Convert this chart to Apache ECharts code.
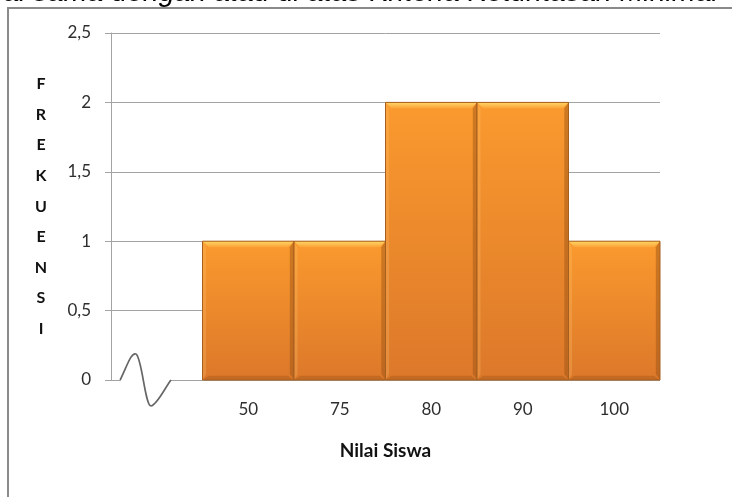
<!DOCTYPE html>
<html>
<head>
<meta charset="utf-8">
<script src="https://cdn.jsdelivr.net/npm/echarts@6/dist/echarts.min.js"></script>
<style>
  html, body { margin: 0; padding: 0; background: #fff; }
  #chart { width: 732px; height: 497px; }
</style>
</head>
<body>
<div id="chart"></div>
<script>
// Frekuensi nilai siswa; the first category is left empty for the axis break
const categories = ['', '50', '75', '80', '90', '100'];
const frekuensi = [null, 1, 1, 2, 2, 1];
const yTicks = [0, 0.5, 1, 1.5, 2, 2.5];

const chart = echarts.init(document.getElementById('chart'), null, { renderer: 'canvas' });

const GRID = '#a3a3a3';
const TEXT = '#2e2e2e';
const FONT = 'Lato, "Open Sans", sans-serif';

const barData = categories.map((c, i) => [i, frekuensi[i]]);

function lg(stops) {
  return new echarts.graphic.LinearGradient(0, 0, 0, 1, stops);
}

function renderBar(params, api) {
  const v = api.value(1);
  if (v == null || isNaN(v)) return;
  const top = api.coord([api.value(0), v]);
  const base = api.coord([api.value(0), 0]);
  const w = api.size([1, 0])[0];
  const x0 = top[0] - w / 2, x1 = top[0] + w / 2;
  const y0 = top[1], y1 = base[1];
  const b = 6;
  return {
    type: 'group',
    children: [
      {
        type: 'rect',
        shape: { x: x0, y: y0, width: w, height: y1 - y0 },
        style: {
          fill: lg([{ offset: 0, color: '#fa9a2e' }, { offset: 1, color: '#dc782a' }]),
          shadowBlur: 3, shadowColor: 'rgba(0,0,0,0.25)', shadowOffsetX: -1
        }
      },
      { // top bevel
        type: 'polygon',
        shape: { points: [[x0, y0], [x1, y0], [x1 - b, y0 + b], [x0 + b, y0 + b]] },
        style: { fill: lg([{ offset: 0, color: '#ffd766' }, { offset: 1, color: '#fba237' }]) }
      },
      { // left bevel
        type: 'polygon',
        shape: { points: [[x0, y0], [x0 + b * 0.6, y0 + b], [x0 + b * 0.6, y1 - b], [x0, y1]] },
        style: { fill: 'rgba(255,200,120,0.25)' }
      },
      { // right bevel
        type: 'polygon',
        shape: { points: [[x1, y0], [x1, y1], [x1 - b * 0.7, y1 - b], [x1 - b * 0.7, y0 + b]] },
        style: { fill: 'rgba(150,80,20,0.45)' }
      },
      { // bottom bevel
        type: 'polygon',
        shape: { points: [[x0, y1], [x0 + b, y1 - b * 0.7], [x1 - b, y1 - b * 0.7], [x1, y1]] },
        style: { fill: 'rgba(150,80,20,0.35)' }
      },
      {
        type: 'rect',
        shape: { x: x0, y: y0, width: w, height: y1 - y0 },
        style: { fill: 'none', stroke: '#a75f1d', lineWidth: 1 }
      }
    ]
  };
}

chart.setOption({
  animation: false,
  backgroundColor: '#ffffff',
  grid: { left: 111, right: 72, top: 33, bottom: 117 },
  xAxis: {
    type: 'category',
    data: categories,
    axisLine: { show: false },
    axisTick: { show: false },
    axisLabel: { color: TEXT, fontFamily: FONT, fontSize: 17, margin: 21 },
    name: 'Nilai Siswa',
    nameLocation: 'middle',
    nameGap: 61,
    nameTextStyle: { color: '#111', fontFamily: FONT, fontSize: 19, fontWeight: 'bold' }
  },
  yAxis: {
    type: 'value',
    min: yTicks[0],
    max: yTicks[yTicks.length - 1],
    interval: 0.5,
    axisLine: { show: true, lineStyle: { color: GRID, width: 1 } },
    axisTick: { show: true, length: 6, lineStyle: { color: GRID } },
    splitLine: { show: true, lineStyle: { color: GRID, width: 1 } },
    axisLabel: {
      color: TEXT, fontFamily: FONT, fontSize: 17, margin: 20,
      formatter: v => String(v).replace('.', ',')
    },
    name: 'F\nR\nE\nK\nU\nE\nN\nS\nI',
    nameLocation: 'middle',
    nameRotate: 0,
    nameGap: 70,
    nameTextStyle: {
      color: '#111', fontFamily: FONT, fontSize: 16, fontWeight: 'bold',
      lineHeight: 30.6, align: 'center', verticalAlign: 'middle'
    }
  },
  series: [{
    type: 'custom',
    renderItem: renderBar,
    data: barData,
    encode: { x: 0, y: 1 },
    z: 3
  }]
});

// Axis break squiggle inside the empty first category, plus frame and caption
const c0 = chart.convertToPixel({ gridIndex: 0 }, [0, 0]);
const c1 = chart.convertToPixel({ gridIndex: 0 }, [1, 0]);
const band = c1[0] - c0[0];
const left = c0[0] - band / 2;
const by = c0[1];
const sx = left + band * 0.1;
const ex = left + band * 0.655;
const k = (ex - sx) / 51;
const X = dx => sx + dx * k;
const Y = dy => by + dy;
const curve = (a, c1, c2, b) => ({
  type: 'bezierCurve', z: 101,
  shape: {
    x1: X(a[0]), y1: Y(a[1]), cpx1: X(c1[0]), cpy1: Y(c1[1]),
    cpx2: X(c2[0]), cpy2: Y(c2[1]), x2: X(b[0]), y2: Y(b[1])
  },
  style: { fill: null, stroke: '#666666', lineWidth: 1.7 }
});

chart.setOption({
  graphic: [
    {
      type: 'rect', z: 100,
      shape: { x: sx + 0.5, y: by - 2, width: ex - sx - 1, height: 4 },
      style: { fill: '#ffffff' }
    },
    curve([0, 0], [7, -14], [11, -28], [16, -26]),
    curve([16, -26], [22, -22], [25, 26], [31, 26]),
    curve([31, 26], [37, 25], [45, 8], [51, 0]),
    {
      type: 'rect', z: 100,
      shape: { x: 8, y: 8, width: 760, height: 560 },
      style: { fill: null, stroke: '#8a8a8a', lineWidth: 2 }
    },
    {
      type: 'text', z: 100,
      x: 718, y: -6.5,
      style: {
        text: 'ai sama dengan atau di atas Kriteria Ketuntasan Minimal',
        fill: '#000', font: 'italic 28.5px "Liberation Sans", Arial, sans-serif',
        textAlign: 'right', textVerticalAlign: 'middle'
      }
    }
  ]
});
</script>
</body>
</html>
